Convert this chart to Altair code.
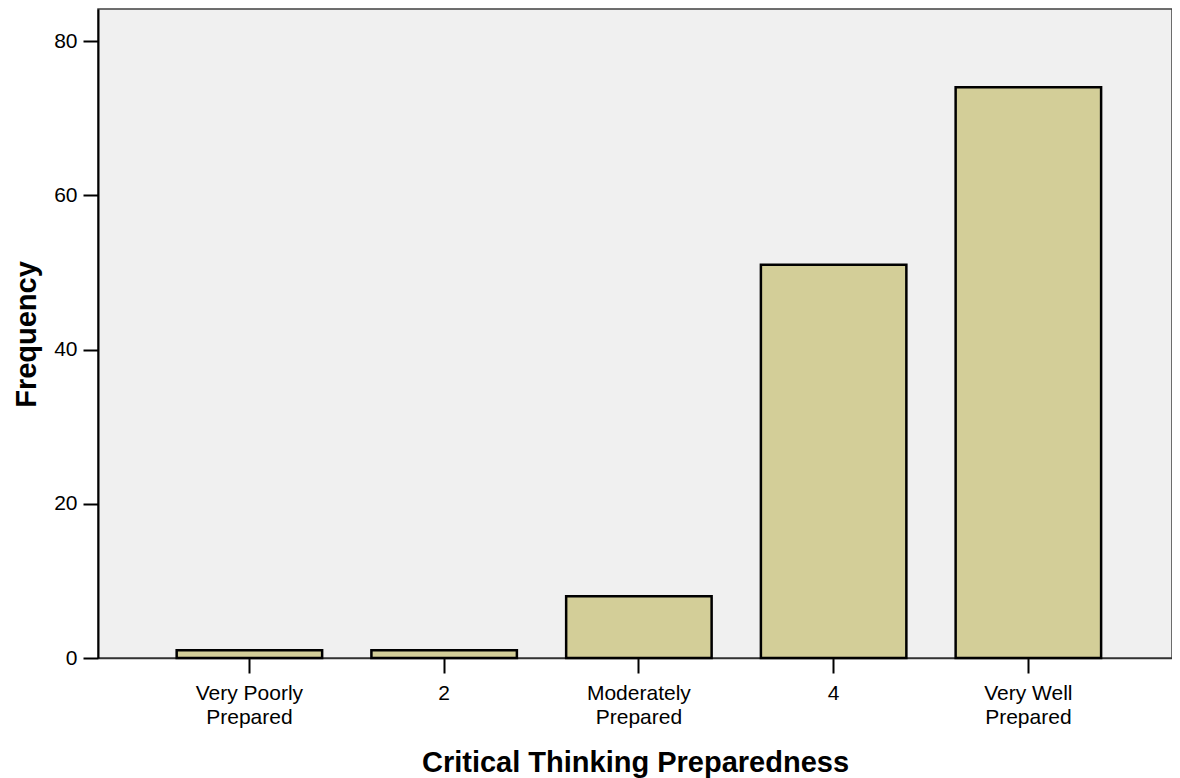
import altair as alt
import pandas as pd

categories = ["Very Poorly Prepared", "2", "Moderately Prepared", "4", "Very Well Prepared"]
frequencies = [1, 1, 8, 51, 74]
y_ticks = [0, 20, 40, 60, 80]

df = pd.DataFrame({"category": categories, "frequency": frequencies})

FONT = "Liberation Sans"

chart = alt.Chart(df).mark_bar(
    color="#d3ce98", stroke="#000000", strokeWidth=2.5
).encode(
    x=alt.X(
        "category:N",
        sort=categories,
        scale=alt.Scale(paddingInner=0.253, paddingOuter=0.384, align=0.526),
        axis=alt.Axis(
            title="Critical Thinking Preparedness",
            labelAngle=0,
            labelExpr="indexof(datum.label, ' Prepared') > 0 ? [replace(datum.label, ' Prepared', ''), 'Prepared'] : datum.label",
            labelFont=FONT, labelFontSize=21, labelColor="#000000",
            labelBaseline="alphabetic", labelPadding=26, labelLineHeight=24,
            tickSize=15, tickWidth=2, tickColor="#000000",
            domainColor="#333333", domainWidth=1.5,
            titleFont=FONT, titleFontSize=29, titleFontWeight="bold", titleColor="#000000",
            titleY=113, titleBaseline="alphabetic",
        ),
    ),
    y=alt.Y(
        "frequency:Q",
        scale=alt.Scale(domain=[0, 84.15], nice=False),
        axis=alt.Axis(
            title="Frequency",
            values=y_ticks, grid=False,
            labelFont=FONT, labelFontSize=21, labelColor="#000000", labelPadding=6,
            tickSize=15, tickWidth=2, tickColor="#000000",
            domainColor="#000000", domainWidth=2,
            titleFont=FONT, titleFontSize=29, titleFontWeight="bold", titleColor="#000000",
            titleX=-63, titleY=325, titleBaseline="alphabetic", titleAngle=-90,
        ),
    ),
).properties(
    width=1074,
    height=649,
    background="#ffffff",
    autosize=alt.AutoSizeParams(type="none"),
    padding={"left": 90, "top": 1, "right": 0, "bottom": 120},
).configure_view(
    fill="#f0f0f0", stroke="#404040", strokeWidth=1.5
)

chart.save("out.html", embed_options={"renderer": "svg", "actions": False})
